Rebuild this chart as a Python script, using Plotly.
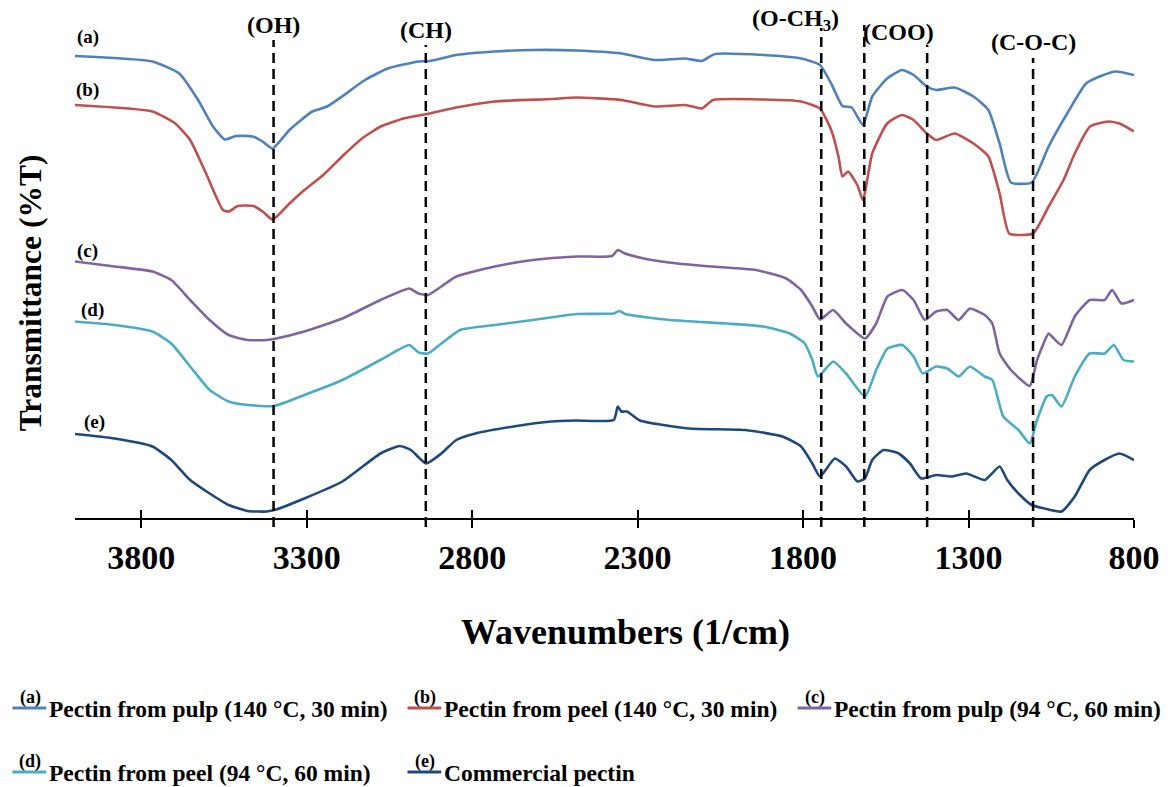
import plotly.graph_objects as go

# ---------------- data ----------------
wn_a = [4000, 3766, 3685, 3628, 3583, 3547, 3514, 3463, 3433, 3403, 3352, 3283, 3238, 3193, 3124, 3055, 2962, 2929, 2848, 2733, 2617, 2485, 2349, 2248, 2156, 2106, 2066, 1919, 1806, 1749, 1715, 1681, 1653, 1619, 1591, 1546, 1501, 1466, 1426, 1398, 1342, 1285, 1240, 1206, 1172, 1109, 1058, 1002, 945, 900, 855, 800]
t_a = [92.4, 91.3, 88.9, 83.6, 78.3, 75.7, 76.4, 76.3, 75.3, 73.9, 77.6, 81.3, 82.3, 84.3, 87.6, 89.9, 91.3, 91.4, 92.6, 93.3, 93.6, 93.5, 92.9, 91.6, 91.9, 91.4, 92.8, 92.6, 91.9, 90.6, 86.9, 82.4, 82.1, 78.6, 84.3, 87.9, 89.6, 88.6, 86.3, 85.6, 86.1, 84.3, 81.6, 74.9, 67.1, 67.1, 74.3, 80.9, 86.9, 88.4, 89.3, 88.6]

wn_b = [4000, 3766, 3697, 3652, 3604, 3553, 3535, 3508, 3461, 3433, 3403, 3352, 3307, 3250, 3193, 3133, 3076, 3007, 2929, 2848, 2733, 2559, 2485, 2349, 2248, 2156, 2106, 2072, 1919, 1806, 1749, 1715, 1693, 1681, 1664, 1636, 1619, 1591, 1546, 1501, 1466, 1426, 1398, 1342, 1285, 1240, 1206, 1177, 1105, 1058, 1013, 979, 933, 877, 844, 800]
t_b = [82.6, 81.3, 78.9, 75.6, 68.9, 61.6, 61.3, 62.4, 62.4, 61.3, 59.7, 62.9, 65.6, 68.6, 72.3, 75.9, 78.3, 79.9, 80.9, 82.1, 83.3, 83.8, 84.1, 83.6, 82.3, 82.6, 81.9, 83.6, 83.7, 83.3, 81.9, 77.6, 72.3, 68.3, 69.3, 66.6, 63.6, 72.9, 78.9, 80.6, 79.6, 76.9, 75.6, 76.9, 74.9, 72.3, 64.9, 56.9, 56.9, 62.3, 67.6, 72.9, 78.3, 79.3, 78.9, 77.3]

wn_c = [4000, 3880, 3766, 3709, 3652, 3593, 3536, 3478, 3421, 3392, 3307, 3192, 3077, 2990, 2962, 2933, 2893, 2848, 2732, 2617, 2485, 2377, 2360, 2338, 2281, 2179, 2077, 1942, 1851, 1806, 1772, 1749, 1709, 1670, 1613, 1579, 1545, 1500, 1466, 1432, 1398, 1364, 1330, 1296, 1251, 1228, 1206, 1172, 1115, 1093, 1058, 1048, 1019, 979, 934, 889, 866, 838, 800]
t_c = [51.3, 50.3, 49.3, 47.6, 43.6, 39.6, 36.6, 35.6, 35.6, 35.9, 37.3, 39.9, 43.6, 45.9, 44.9, 44.6, 46.3, 48.3, 50.3, 51.6, 52.3, 52.4, 53.6, 52.9, 51.9, 50.9, 50.3, 49.6, 47.9, 45.6, 42.3, 39.7, 41.6, 38.9, 35.9, 38.9, 44.3, 45.6, 43.6, 39.6, 41.3, 41.6, 39.6, 41.9, 40.6, 38.9, 32.9, 29.6, 26.4, 31.6, 36.9, 36.3, 34.6, 40.3, 43.6, 43.6, 45.6, 42.9, 43.6]

wn_d = [4000, 3880, 3766, 3709, 3652, 3593, 3536, 3478, 3398, 3307, 3192, 3077, 2990, 2962, 2933, 2893, 2836, 2732, 2617, 2485, 2372, 2355, 2338, 2202, 2032, 1919, 1840, 1795, 1772, 1755, 1709, 1670, 1613, 1579, 1545, 1500, 1466, 1438, 1398, 1364, 1330, 1296, 1251, 1228, 1195, 1149, 1115, 1093, 1064, 1048, 1019, 979, 934, 889, 861, 832, 800]
t_d = [39.3, 38.6, 37.3, 34.9, 30.3, 25.6, 23.3, 22.6, 22.4, 24.6, 27.6, 31.6, 34.6, 33.1, 32.9, 34.9, 37.6, 38.6, 39.6, 40.8, 40.9, 41.4, 40.8, 39.6, 38.9, 38.3, 36.9, 34.9, 31.6, 28.3, 31.3, 28.9, 24.3, 29.6, 33.9, 34.6, 32.3, 28.9, 30.3, 29.9, 28.3, 30.3, 28.3, 27.6, 20.3, 17.6, 14.9, 19.6, 24.3, 24.6, 22.3, 28.3, 32.9, 32.9, 34.6, 31.6, 31.3]

wn_e = [4000, 3880, 3766, 3709, 3652, 3593, 3536, 3478, 3421, 3392, 3307, 3192, 3077, 3019, 2985, 2939, 2893, 2848, 2790, 2675, 2560, 2485, 2372, 2360, 2349, 2332, 2293, 2145, 1975, 1862, 1806, 1772, 1749, 1704, 1670, 1636, 1613, 1591, 1557, 1511, 1477, 1443, 1398, 1352, 1307, 1251, 1206, 1183, 1149, 1109, 1070, 1019, 979, 934, 889, 844, 800]
t_e = [16.8, 15.9, 14.3, 11.6, 7.6, 4.9, 2.6, 1.4, 1.3, 1.7, 3.9, 7.3, 12.9, 14.4, 13.6, 10.9, 12.9, 15.6, 16.9, 18.3, 19.3, 19.5, 19.6, 22.3, 21.3, 21.3, 19.5, 17.9, 17.6, 16.3, 14.3, 10.9, 8.3, 11.9, 10.3, 7.3, 7.9, 11.6, 13.6, 12.9, 10.9, 7.9, 8.6, 8.3, 8.9, 7.6, 10.3, 7.6, 4.9, 2.6, 1.9, 1.3, 4.3, 9.6, 11.6, 12.9, 11.6]

series_names = ["Pectin from pulp (140 °C, 30 min)", "Pectin from peel (140 °C, 30 min)",
                "Pectin from pulp (94 °C, 60 min)", "Pectin from peel (94 °C, 60 min)",
                "Commercial pectin"]
series_tags = ["(a)", "(b)", "(c)", "(d)", "(e)"]
colors = ["#4F81BD", "#C0504D", "#8064A2", "#4BACC6", "#1F497D"]

tick_vals = [3800, 3300, 2800, 2300, 1800, 1300, 800]

peak_wn = [3400, 2940, 1745, 1615, 1425, 1105]
peak_top = [95.6, 94.6, 98.0, 98.6, 94.6, 92.0]

band_labels = ["(OH)", "(CH)", "(O-CH<sub>3</sub>)", "(COO)", "(C-O-C)"]
band_label_wn = [3400, 2940, 1822, 1511, 1105]
band_label_t = [98.6, 97.6, 99.6, 97.2, 95.2]

tag_wn = [3961, 3961, 3961, 3946, 3940]
tag_t = [96.2, 85.6, 53.4, 41.6, 19.2]

# ---------------- layout helpers ----------------
W, H = 1172, 787
L, R, T, B = 75, 30, 18, 269
PW, PH = W - L - R, H - T - B
FONT = "Liberation Serif"


def px(x, y):
    return (x - L) / PW, (H - B - y) / PH


fig = go.Figure()
xs = [wn_a, wn_b, wn_c, wn_d, wn_e]
ys = [t_a, t_b, t_c, t_d, t_e]
for i in range(5):
    fig.add_trace(go.Scatter(x=xs[i], y=ys[i], mode="lines", name=series_names[i],
                             line=dict(color=colors[i], width=2.6, shape="spline", smoothing=0.5),
                             showlegend=False))

# overlay axis for inward half of crossing ticks
fig.add_trace(go.Scatter(x=[None], y=[None], xaxis="x2", showlegend=False, hoverinfo="skip"))

shapes = []
for w, top in zip(peak_wn, peak_top):
    y0p = px(0, 527)[1]
    y1p = top / 100
    shapes.append(dict(type="line", xref="x", yref="paper", x0=w, x1=w, y0=y0p, y1=y1p,
                       line=dict(color="black", width=2.5, dash="10px,6px")))

annotations = []
for lab, w, t in zip(band_labels, band_label_wn, band_label_t):
    annotations.append(dict(x=w, y=t, xref="x", yref="y", text="<b>" + lab + "</b>",
                            xanchor="center", yanchor="middle",
                            showarrow=False, font=dict(family=FONT, size=24, color="black")))
for lab, w, t in zip(series_tags, tag_wn, tag_t):
    annotations.append(dict(x=w, y=t, xref="x", yref="y", text="<b>" + lab + "</b>",
                            xanchor="center", yanchor="middle",
                            showarrow=False, font=dict(family=FONT, size=19, color="black")))

# axis titles
ax, ay = px(630, 632)
annotations.append(dict(x=ax, y=ay, xref="paper", yref="paper", text="<b>Wavenumbers (1/cm)</b>",
                        xanchor="center", yanchor="middle",
                        showarrow=False, font=dict(family=FONT, size=36, color="black")))
ax, ay = px(30, 293)
annotations.append(dict(x=ax, y=ay, xref="paper", yref="paper", text="<b>Transmittance (%T)</b>",
                        xanchor="center", yanchor="middle",
                        textangle=-90, showarrow=False, font=dict(family=FONT, size=31.5, color="black")))

# manual legend
leg_pos = [(12, 708), (410, 708), (803, 708), (12, 772), (410, 772)]
for i, (lx, ly) in enumerate(leg_pos):
    x0, y0 = px(lx, ly)
    x1, _ = px(lx + 34, ly)
    shapes.append(dict(type="line", xref="paper", yref="paper", x0=x0, x1=x1, y0=y0, y1=y0,
                       line=dict(color=colors[i], width=3)))
    tx, ty = px(lx + 35, ly + 1)
    annotations.append(dict(x=tx, y=ty, xref="paper", yref="paper", xanchor="left", yanchor="middle",
                            text="<b>" + series_names[i] + "</b>", showarrow=False,
                            font=dict(family=FONT, size=23.5, color="black")))
    gx, gy = px(lx + 18, ly - 11)
    annotations.append(dict(x=gx, y=gy, xref="paper", yref="paper", xanchor="center", yanchor="middle",
                            text="<b>" + series_tags[i] + "</b>", showarrow=False,
                            font=dict(family=FONT, size=18, color="black")))

fig.update_layout(
    width=W, height=H,
    margin=dict(l=L, r=R, t=T, b=B, pad=0),
    paper_bgcolor="white", plot_bgcolor="white",
    showlegend=False,
    xaxis=dict(range=[4000, 800], tickvals=tick_vals, ticktext=[f"<b>{v}</b>" for v in tick_vals],
               showgrid=False, zeroline=False, showline=True, linecolor="black", linewidth=2,
               ticks="outside", ticklen=8, tickwidth=2, tickcolor="black",
               ticklabelstandoff=0,
               tickfont=dict(family=FONT, size=34, color="black")),
    xaxis2=dict(range=[4000, 800], tickvals=tick_vals, overlaying="x", anchor="y", side="bottom",
                showgrid=False, zeroline=False, showline=False, showticklabels=False,
                ticks="inside", ticklen=8, tickwidth=2, tickcolor="black"),
    yaxis=dict(range=[0, 100], visible=False, showgrid=False, zeroline=False),
    shapes=shapes,
    annotations=annotations,
)

fig.write_html("out.html")
